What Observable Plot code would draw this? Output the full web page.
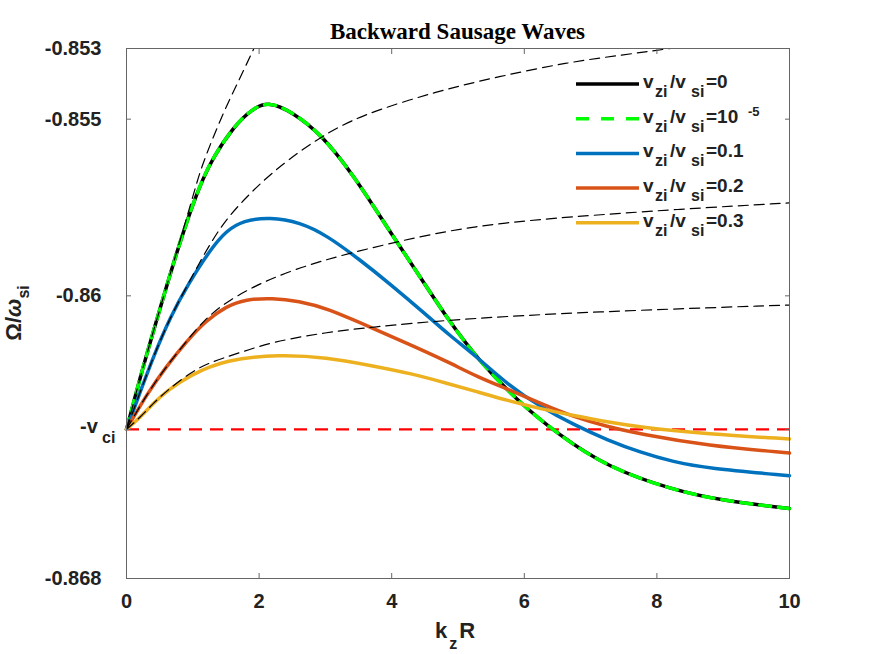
<!DOCTYPE html>
<html><head><meta charset="utf-8">
<script src="https://cdn.jsdelivr.net/npm/d3@7"></script>
<script src="https://cdn.jsdelivr.net/npm/@observablehq/plot@0.6"></script>
<style>body{margin:0;background:#fff}</style>
</head><body><div id="chart"></div>
<script>
// ---- data ----
const vci = -0.86378;
const xTicks = [0, 2, 4, 6, 8, 10];
const yTicks = [-0.853, -0.855, -0.86, vci, -0.868];
const yTickLabels = ["-0.853", "-0.855", "-0.86", "", "-0.868"];

// vzi/vsi = 0 (and 1e-5, identical)
const blackX = [0, 0.25, 0.5, 0.75, 1.0, 1.15, 1.3, 1.62, 1.9, 2.15, 2.5, 2.93, 3.43, 3.93, 4.43, 4.86, 5.3, 5.89, 6.5, 7.25, 8.25, 9.0, 10];
const blackY = [-0.86378, -0.8620, -0.8604, -0.8588, -0.8574, -0.8567, -0.8561, -0.8552, -0.8547, -0.8545, -0.8548, -0.85541, -0.8566, -0.85806, -0.85947, -0.8607, -0.8618, -0.86296, -0.86391, -0.86485, -0.8655, -0.8658, -0.86602];
// vzi/vsi = 0.1
const blueX = [0, 0.21, 0.41, 0.66, 0.92, 1.26, 1.51, 1.76, 2.16, 2.62, 3.02, 3.5, 4.0, 4.5, 4.86, 5.3, 5.74, 6.25, 6.75, 7.25, 7.75, 8.25, 8.76, 10];
const blueY = [-0.86378, -0.8627, -0.8617, -0.8606, -0.8597, -0.8587, -0.85815, -0.85787, -0.85777, -0.85792, -0.85829, -0.85895, -0.8597, -0.8605, -0.8611, -0.86175, -0.8625, -0.86315, -0.86365, -0.86408, -0.86443, -0.8647, -0.86488, -0.86509];
// vzi/vsi = 0.2
const orangeX = [0, 0.3, 0.6, 0.9, 1.2, 1.5, 1.8, 2.2, 2.6, 3.02, 3.68, 4.3, 4.86, 5.3, 5.74, 6.25, 6.75, 7.25, 7.75, 8.76, 10];
const orangeY = [-0.86378, -0.8628, -0.8620, -0.8613, -0.8607, -0.8603, -0.8601, -0.86006, -0.86015, -0.86035, -0.86089, -0.8614, -0.86188, -0.8623, -0.86263, -0.86305, -0.86343, -0.8637, -0.86391, -0.86424, -0.86445];
// vzi/vsi = 0.3
const yellowX = [0, 0.2, 0.41, 0.6, 0.95, 1.5, 2.3, 3.02, 3.68, 4.3, 4.86, 5.3, 5.74, 6.25, 6.75, 7.25, 7.75, 8.76, 10];
const yellowY = [-0.86378, -0.86345, -0.86303, -0.8627, -0.86225, -0.8618, -0.86166, -0.86174, -0.86197, -0.8622, -0.86249, -0.86272, -0.86296, -0.8632, -0.86339, -0.86357, -0.86372, -0.86391, -0.86405];

// thin dashed approximations
const aX = [0, 0.25, 0.5, 0.75, 1.0, 1.12, 1.32, 1.52, 1.72, 1.92, 2.1];
const aY = [-0.86378, -0.8620, -0.8604, -0.8588, -0.8572, -0.8564, -0.85545, -0.85457, -0.85381, -0.8530, -0.8523];
const bX = [0, 0.21, 0.41, 0.66, 0.92, 1.06, 1.42, 1.81, 2.17, 2.62, 2.93, 3.5, 4.7, 5.6, 6.65, 7.5, 8.15, 9, 10];
const bY = [-0.86378, -0.8627, -0.8617, -0.8606, -0.8597, -0.8592, -0.8580, -0.8572, -0.85655, -0.8559, -0.85551, -0.8549, -0.8542, -0.8538, -0.85339, -0.85318, -0.85301, -0.8528, -0.8526];
const cX = [0, 0.3, 0.6, 0.9, 1.16, 1.51, 2.14, 2.93, 3.93, 4.86, 5.7, 6.65, 8.3, 10];
const cY = [-0.86378, -0.8628, -0.8620, -0.8613, -0.8607, -0.86015, -0.85952, -0.85900, -0.85853, -0.85815, -0.85793, -0.85777, -0.85755, -0.85737];
const dX = [0, 0.2, 0.41, 0.6, 0.95, 1.26, 1.66, 2.2, 3.02, 3.68, 4.89, 7.0, 10];
const dY = [-0.86378, -0.86345, -0.86303, -0.8627, -0.86218, -0.86188, -0.86164, -0.8613, -0.86103, -0.86089, -0.86067, -0.86045, -0.86026];

const legendValues = ["0", "10", "0.1", "0.2", "0.3"];
const legendColors = ["#000000", "#00FF00", "#0072BD", "#D95319", "#EDB120"];

// ---- build ----
const rows = (xs, ys, id) => xs.map((x, i) => ({x, y: ys[i], id}));
const black = rows(blackX, blackY, "k");
const blue = rows(blueX, blueY, "b");
const orange = rows(orangeX, orangeY, "o");
const yellow = rows(yellowX, yellowY, "y");
const asym = [...rows(aX, aY, "A"), ...rows(bX, bY, "B"), ...rows(cX, cY, "C"), ...rows(dX, dY, "D")];
const labelOf = new Map(yTicks.map((t, i) => [t, yTickLabels[i]]));

const lineOpts = {x: "x", y: "y", strokeWidth: 3.5, curve: "basis"};
const axisCol = "#666";
const txtCol = "#222";

const plot = Plot.plot({
  width: 872, height: 654,
  marginTop: 48, marginRight: 83, marginBottom: 76, marginLeft: 126,
  x: {domain: [0, 10]},
  y: {domain: [-0.868, -0.853]},
  style: {fontFamily: "'Liberation Sans', Arial, sans-serif", fontSize: "20px", fontWeight: "bold", background: "white"},
  marks: [
    Plot.ruleY([vci], {stroke: "#FF0000", strokeWidth: 2.2, strokeDasharray: "13,8"}),
    Plot.line(black, {...lineOpts, stroke: legendColors[0]}),
    Plot.line(black, {...lineOpts, stroke: legendColors[1], strokeDasharray: "11,8"}),
    Plot.line(blue, {...lineOpts, stroke: legendColors[2]}),
    Plot.line(orange, {...lineOpts, stroke: legendColors[3]}),
    Plot.line(yellow, {...lineOpts, stroke: legendColors[4]}),
    Plot.line(asym, {x: "x", y: "y", z: "id", stroke: "black", strokeWidth: 1.2, strokeDasharray: "10,6", curve: "basis", clip: true}),
    Plot.frame({stroke: axisCol, strokeWidth: 1}),
    Plot.axisX({ticks: xTicks, tickSize: -5, tickPadding: 20, stroke: axisCol, fill: txtCol, fontSize: 20, fontWeight: "bold", label: null, tickFormat: d => String(d)}),
    Plot.axisX({anchor: "top", ticks: xTicks, tickSize: -5, stroke: axisCol, label: null, tickFormat: () => ""}),
    Plot.axisY({ticks: yTicks, tickSize: -5, tickPadding: 30, stroke: axisCol, fill: txtCol, fontSize: 20, fontWeight: "bold", label: null, tickFormat: d => labelOf.get(d) ?? ""}),
    Plot.axisY({anchor: "right", ticks: yTicks, tickSize: -5, stroke: axisCol, label: null, tickFormat: () => ""})
  ]
});
document.getElementById("chart").appendChild(plot);

// ---- annotations ----
const svg = d3.select(plot);
const sx = plot.scale("x"), sy = plot.scale("y");
const cx = (sx.apply(0) + sx.apply(10)) / 2;

svg.append("text").attr("x", cx).attr("y", 39).attr("text-anchor", "middle")
  .attr("fill", "#000").style("font-family", "'Liberation Serif', 'Times New Roman', serif")
  .style("font-size", "23px").style("font-weight", "bold").text("Backward Sausage Waves");

// -v_ci tick label
const vt = svg.append("text").attr("text-anchor", "start").attr("x", 80).attr("y", sy.apply(vci) + 4.5).attr("fill", txtCol).style("font-size", "20px");
vt.append("tspan").text("-v");
vt.append("tspan").attr("x", 102).attr("dy", 10).style("font-size", "16px").text("ci");

// x label
const xl = svg.append("text").attr("text-anchor", "start").attr("x", 435).attr("y", 638).attr("fill", txtCol).style("font-size", "22px");
xl.append("tspan").text("k");
xl.append("tspan").attr("dx", 2).attr("dy", 11).style("font-size", "16px").text("z");
xl.append("tspan").attr("dx", 2).attr("dy", -11).text("R");

// y label
const yl = svg.append("text").attr("transform", `translate(21,313) rotate(-90)`)
  .attr("text-anchor", "middle").attr("fill", txtCol).style("font-size", "22px");
yl.append("tspan").text("Ω/");
yl.append("tspan").style("font-style", "italic").text("ω");
yl.append("tspan").attr("dy", 8).style("font-size", "16px").text("si");

// legend
const lg = svg.append("g").attr("fill", txtCol).attr("text-anchor", "start");
legendValues.forEach((v, i) => {
  const y = 84 + i * 34.7;
  lg.append("line").attr("x1", 576).attr("x2", 639).attr("y1", y).attr("y2", y)
    .attr("stroke", legendColors[i]).attr("stroke-width", 3.5)
    .attr("stroke-dasharray", i === 1 ? "13,12" : null);
  const t = lg.append("text").attr("y", y + 4).style("font-size", "19px");
  t.append("tspan").attr("x", 643).text("v");
  t.append("tspan").attr("x", 655).attr("dy", 9).style("font-size", "16px").text("zi");
  t.append("tspan").attr("x", 670).attr("dy", -9).text("/v");
  t.append("tspan").attr("x", 691).attr("dy", 9).style("font-size", "16px").text("si");
  t.append("tspan").attr("x", 706).attr("dy", -9).text("=" + v);
  if (i === 1) t.append("tspan").attr("x", 748).attr("dy", -7).style("font-size", "13px").text("-5");
});
</script>
</body></html>
